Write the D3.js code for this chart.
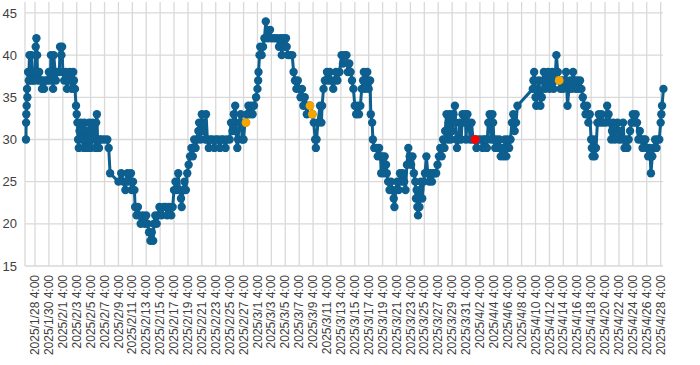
<!DOCTYPE html>
<html>
<head>
<meta charset="utf-8">
<script src="https://cdn.jsdelivr.net/npm/d3@7"></script>
<style>
  body { margin: 0; background: #fff; }
  svg { display: block; font-family: "Liberation Sans", Arial, sans-serif; }
</style>
</head>
<body>
<div id="chart"></div>
<script>
// readings are [days after 2025/1/28 4:00, value]
var baseLabel = "2025/1/28 4:00";

var xTickLabels = [
    "2025/1/28 4:00", "2025/1/30 4:00", "2025/2/1 4:00", "2025/2/3 4:00", "2025/2/5 4:00",
    "2025/2/7 4:00", "2025/2/9 4:00", "2025/2/11 4:00", "2025/2/13 4:00", "2025/2/15 4:00",
    "2025/2/17 4:00", "2025/2/19 4:00", "2025/2/21 4:00", "2025/2/23 4:00", "2025/2/25 4:00",
    "2025/2/27 4:00", "2025/3/1 4:00", "2025/3/3 4:00", "2025/3/5 4:00", "2025/3/7 4:00",
    "2025/3/9 4:00", "2025/3/11 4:00", "2025/3/13 4:00", "2025/3/15 4:00", "2025/3/17 4:00",
    "2025/3/19 4:00", "2025/3/21 4:00", "2025/3/23 4:00", "2025/3/25 4:00", "2025/3/27 4:00",
    "2025/3/29 4:00", "2025/3/31 4:00", "2025/4/2 4:00", "2025/4/4 4:00", "2025/4/6 4:00",
    "2025/4/8 4:00", "2025/4/10 4:00", "2025/4/12 4:00", "2025/4/14 4:00", "2025/4/16 4:00",
    "2025/4/18 4:00", "2025/4/20 4:00", "2025/4/22 4:00", "2025/4/24 4:00", "2025/4/26 4:00",
    "2025/4/28 4:00"
];

var yTicks = [15, 20, 25, 30, 35, 40, 45];

var readingsLateJan = [
    [-1.3, 30], [-1.28, 32], [-1.25, 33], [-1.2, 34], [-1.15, 36], [-1.1, 35], [-1.0, 38], [-0.9, 37],
    [-0.8, 40], [-0.7, 38], [-0.6, 37], [-0.5, 40], [-0.4, 38], [-0.3, 37], [-0.2, 38], [-0.1, 37],
    [0, 38], [0.1, 41], [0.2, 42], [0.3, 40], [0.35, 38], [0.4, 37], [0.6, 38], [0.8, 37], [1.0, 36],
    [1.1, 37], [1.3, 36], [1.5, 37], [1.8, 37], [2.0, 38], [2.2, 37], [2.3, 40], [2.6, 36], [2.7, 40],
    [2.9, 38], [3.0, 37], [3.2, 38], [3.5, 38], [3.6, 41], [3.8, 40], [3.9, 41], [4.0, 38], [4.2, 37],
    [4.4, 38], [4.6, 36], [4.8, 37], [5.0, 38], [5.2, 37], [5.3, 36], [5.5, 38], [5.6, 37], [5.75, 36],
    [5.9, 34], [6.0, 33], [6.1, 32]
];

var readingsFeb = [
    [6.2, 30], [6.3, 29], [6.4, 31], [6.6, 32], [6.8, 30], [7.0, 29], [7.1, 32], [7.3, 31], [7.5, 29],
    [7.6, 30], [7.8, 32], [8.0, 29], [8.2, 30], [8.3, 32], [8.5, 31], [8.7, 29], [8.8, 32], [8.9, 33],
    [9.0, 30], [9.2, 29], [9.3, 30], [9.6, 30], [10.0, 30], [10.4, 30], [10.6, 29], [10.8, 26],
    [12.0, 25], [12.4, 26], [12.7, 25], [13.0, 24], [13.1, 25], [13.3, 26], [13.5, 25], [13.8, 26],
    [13.9, 24], [14.1, 25], [14.3, 24], [14.4, 22], [14.6, 21], [14.8, 22], [15.0, 21], [15.2, 20],
    [15.5, 21], [15.8, 20], [16.0, 21], [16.2, 20], [16.4, 19], [16.6, 18], [16.8, 19], [17.0, 18],
    [17.1, 20], [17.3, 21], [17.5, 20], [17.7, 21], [17.9, 22], [18.2, 21], [18.5, 22], [18.8, 22],
    [19.0, 21], [19.3, 22], [19.6, 21], [19.8, 22], [20.0, 24], [20.2, 25], [20.4, 24], [20.6, 26],
    [20.8, 24], [21.0, 23], [21.1, 22], [21.3, 24], [21.5, 25], [21.7, 24], [21.9, 26], [22.1, 27],
    [22.3, 28], [22.5, 29], [22.7, 28], [22.9, 30],
    [23.1, 29], [23.3, 30], [23.5, 31], [23.6, 32], [23.8, 30], [24.0, 33], [24.1, 31], [24.3, 32],
    [24.5, 30], [24.6, 33], [24.8, 30], [25.0, 29], [25.2, 30], [25.5, 30], [25.8, 29], [26.0, 30],
    [26.3, 30], [26.6, 29], [26.8, 30], [27.1, 30], [27.4, 29], [27.6, 30], [28.0, 30], [28.2, 32],
    [28.4, 31], [28.6, 33], [28.8, 34], [28.9, 31], [29.1, 29], [29.2, 30], [29.4, 32], [29.6, 33],
    [29.8, 30], [30.0, 30], [30.2, 32], [30.35, 32]
];

var readingsMar = [
    [30.5, 33], [30.7, 34], [30.9, 33], [31.1, 34], [31.3, 33], [31.5, 34], [31.8, 35], [32.0, 36],
    [32.1, 37], [32.15, 38], [32.3, 40], [32.4, 41], [32.6, 40], [32.8, 41], [33.0, 42], [33.2, 44],
    [33.5, 42], [33.8, 43], [34.0, 42], [34.4, 42], [34.8, 42], [35.1, 41], [35.3, 42], [35.5, 40],
    [35.7, 42], [35.9, 41], [36.1, 42], [36.2, 41], [36.4, 40], [36.7, 40], [37.0, 40], [37.2, 38],
    [37.4, 37], [37.6, 36], [37.8, 37], [38.0, 36], [38.2, 35], [38.4, 36], [38.6, 34], [38.8, 35],
    [39.0, 34], [39.1, 33], [39.3, 34], [39.56, 34], [39.9, 33], [40.1, 32], [40.3, 30], [40.4, 29],
    [40.5, 30], [40.7, 32], [41.0, 34], [41.2, 32], [41.3, 34], [41.5, 36], [41.7, 37], [42.0, 38],
    [42.2, 37], [42.4, 38], [42.6, 37], [42.9, 36], [43.1, 37], [43.3, 38], [43.5, 37], [43.8, 38],
    [44.1, 40], [44.3, 39], [44.5, 40], [44.8, 40], [45.0, 38], [45.2, 39], [45.4, 38], [45.6, 37],
    [45.8, 36], [46.0, 34], [46.2, 33], [46.4, 34], [46.6, 33], [46.8, 34], [47.0, 36], [47.2, 37],
    [47.3, 38], [47.5, 36], [47.6, 37], [47.8, 38], [48.0, 36], [48.2, 37], [48.3, 33], [48.5, 32],
    [48.6, 30], [48.8, 29], [49.1, 29], [49.3, 28], [49.5, 29], [49.7, 28], [49.8, 26], [50.0, 28],
    [50.2, 26], [50.3, 28], [50.5, 27], [50.6, 26], [50.8, 25], [51.0, 24], [51.2, 25], [51.4, 24],
    [51.6, 23], [51.7, 22], [51.9, 24], [52.1, 25], [52.3, 24], [52.5, 26], [52.7, 25], [52.9, 26],
    [53.1, 25], [53.3, 24], [53.5, 27], [53.7, 29], [53.9, 28], [54.1, 27], [54.3, 28], [54.5, 26],
    [54.7, 25], [54.8, 23], [54.9, 24], [55.0, 22], [55.1, 21], [55.3, 22], [55.4, 24], [55.5, 25],
    [55.7, 23], [55.9, 25], [56.1, 26], [56.3, 28], [56.5, 26], [56.7, 25], [56.9, 26], [57.1, 25],
    [57.3, 26], [57.5, 26], [57.7, 26], [57.9, 27], [58.1, 28], [58.3, 29], [58.5, 28], [58.7, 30],
    [58.9, 29], [59.0, 31], [59.2, 33], [59.4, 30], [59.5, 32], [59.7, 33], [59.8, 30], [60.0, 31],
    [60.2, 33], [60.4, 34], [60.5, 32], [60.6, 30], [60.7, 29], [60.9, 30], [61.1, 32], [61.3, 30],
    [61.5, 33], [61.7, 32], [61.9, 33], [62.0, 30], [62.2, 33], [62.4, 32], [62.6, 30], [62.8, 32],
    [63.0, 30], [63.3, 30]
];

var readingsApr = [
    [63.5, 29], [63.8, 30], [64.2, 30], [64.4, 29], [64.6, 30], [64.8, 30], [65.0, 29], [65.2, 32],
    [65.4, 33], [65.5, 32], [65.6, 30], [65.8, 33], [65.9, 32], [66.0, 30], [66.2, 29], [66.4, 30],
    [66.6, 29], [66.8, 30], [67.0, 28], [67.2, 29], [67.4, 28], [67.6, 30], [67.8, 28], [68.0, 30],
    [68.2, 29], [68.4, 30], [68.6, 32], [68.8, 33], [69.0, 31], [69.2, 32], [69.4, 34], [71.6, 36],
    [71.7, 37], [71.8, 38], [71.9, 37], [72.0, 35], [72.1, 34], [72.3, 36], [72.5, 37], [72.7, 34],
    [72.9, 35], [73.1, 37], [73.2, 38], [73.4, 36], [73.6, 37], [73.8, 38], [74.0, 36], [74.2, 37],
    [74.4, 38], [74.6, 36], [74.8, 37], [75.0, 40], [75.2, 38], [75.4, 37], [75.6, 36], [75.8, 37],
    [76.0, 36], [76.2, 37], [76.4, 38], [76.6, 34], [76.8, 36], [77.0, 37], [77.2, 36], [77.4, 38],
    [77.6, 37], [77.8, 36], [78.0, 37], [78.2, 36], [78.4, 37], [78.6, 36], [78.8, 35], [79.0, 34],
    [79.2, 33], [79.4, 34], [79.6, 32], [79.8, 33], [80.0, 30], [80.1, 29], [80.2, 28], [80.4, 30],
    [80.5, 28], [80.7, 29], [80.9, 32], [81.1, 33], [81.3, 32], [81.5, 33], [81.7, 32], [82.1, 32],
    [82.3, 34], [82.5, 33], [82.7, 32], [82.9, 30], [83.0, 31], [83.2, 32], [83.4, 30], [83.6, 31],
    [83.8, 32], [84.0, 30], [84.2, 31], [84.4, 30], [84.6, 32], [84.8, 29], [85.0, 30], [85.2, 29],
    [85.4, 30], [85.6, 31], [85.8, 32], [86.0, 33], [86.2, 32], [86.4, 33], [86.6, 32], [86.8, 30],
    [87.0, 31], [87.2, 30], [87.4, 29], [87.6, 30], [87.8, 30], [88.0, 29], [88.2, 28], [88.4, 29],
    [88.5, 28], [88.6, 26], [88.8, 28], [89.0, 29], [89.2, 30], [89.4, 29], [89.6, 30], [89.8, 30],
    [90.0, 32], [90.1, 33], [90.2, 34], [90.4, 36]
];

// highlighted readings
var orangePoints = [[30.35, 32], [39.56, 34], [39.9, 33], [75.4, 37]];
var redPoints = [[63.3, 30]];

var w = 700, h = 365;
var plotLeft = 25, plotRight = 664, plotTop = 2, plotBottom = 266;
var blue = "#0d5f8f", gridColor = "#d9d9d9";

var parseTime = d3.timeParse("%Y/%m/%d %H:%M");
var base = parseTime(baseLabel);
function toDate(day) {
    return new Date(base.getTime() + day * 864e5);
}

var readings = readingsLateJan.concat(readingsFeb, readingsMar, readingsApr);
var tickDates = xTickLabels.map(parseTime);

var x = d3.scaleTime()
    .domain([toDate(-1.44), toDate(90.48)])
    .range([plotLeft, plotRight]);

var y = d3.scaleLinear()
    .domain([15, 46.3])
    .range([plotBottom, plotTop]);

var svg = d3.select("#chart")
    .append("svg")
    .attr("width", w)
    .attr("height", h);

// grid
var grid = svg.append("g")
    .attr("stroke", gridColor)
    .attr("stroke-width", 1.3);

grid.selectAll(".hgrid")
    .data(yTicks)
    .enter()
    .append("line")
    .attr("x1", plotLeft)
    .attr("x2", plotRight - 1)
    .attr("y1", (d) => y(d))
    .attr("y2", (d) => y(d));

grid.selectAll(".vgrid")
    .data([x.invert(plotLeft)].concat(tickDates))
    .enter()
    .append("line")
    .attr("x1", (d) => x(d))
    .attr("x2", (d) => x(d))
    .attr("y1", plotTop)
    .attr("y2", plotBottom);

// axes (labels only)
var yAxis = svg.append("g")
    .attr("transform", `translate(${plotLeft},0)`)
    .call(d3.axisLeft(y).tickValues(yTicks).tickSize(0).tickPadding(8));
yAxis.select(".domain").remove();
yAxis.selectAll("text")
    .attr("font-family", "Liberation Sans, Arial, sans-serif")
    .attr("font-size", "13px")
    .attr("fill", "#404040");

var xAxis = svg.append("g")
    .attr("transform", `translate(0,${plotBottom})`)
    .call(d3.axisBottom(x)
        .tickValues(tickDates)
        .tickSize(0)
        .tickFormat((d, i) => xTickLabels[i]));
xAxis.select(".domain").remove();
xAxis.selectAll("text")
    .attr("font-family", "Liberation Sans, Arial, sans-serif")
    .attr("font-size", "12px")
    .attr("fill", "#404040")
    .attr("text-anchor", "end")
    .attr("transform", "rotate(-90)")
    .attr("x", -9)
    .attr("y", 0)
    .attr("dy", "0.3em");

// series
var line = d3.line()
    .x((d) => x(toDate(d[0])))
    .y((d) => y(d[1]));

svg.append("path")
    .datum(readings)
    .attr("fill", "none")
    .attr("stroke", blue)
    .attr("stroke-width", 3)
    .attr("stroke-linejoin", "round")
    .attr("d", line);

svg.append("g")
    .selectAll("circle")
    .data(readings)
    .enter()
    .append("circle")
    .attr("cx", (d) => x(toDate(d[0])))
    .attr("cy", (d) => y(d[1]))
    .attr("r", 4.2)
    .attr("fill", blue);

svg.append("g")
    .selectAll("circle")
    .data(orangePoints)
    .enter()
    .append("circle")
    .attr("cx", (d) => x(toDate(d[0])))
    .attr("cy", (d) => y(d[1]))
    .attr("r", 4.4)
    .attr("fill", "#f5a500");

svg.append("g")
    .selectAll("circle")
    .data(redPoints)
    .enter()
    .append("circle")
    .attr("cx", (d) => x(toDate(d[0])))
    .attr("cy", (d) => y(d[1]))
    .attr("r", 4.4)
    .attr("fill", "#ff0000");
</script>
</body>
</html>
